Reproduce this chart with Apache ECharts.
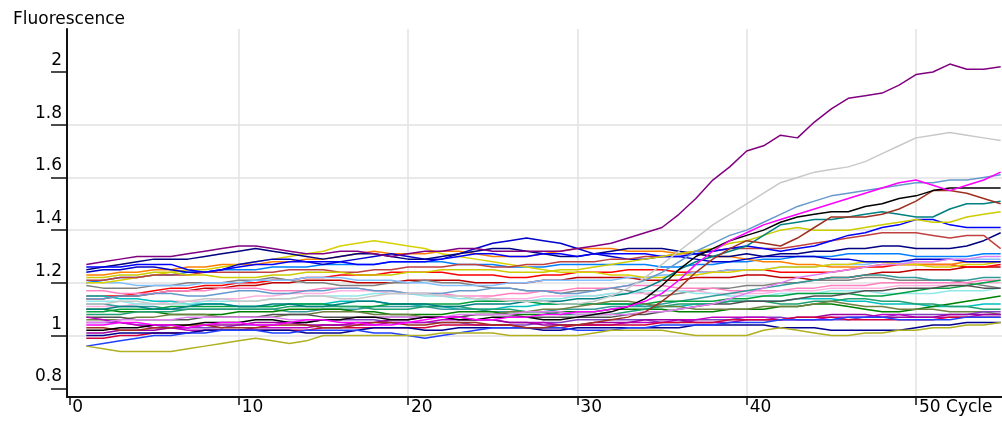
<!DOCTYPE html>
<html>
<head>
<meta charset="utf-8">
<script src="https://cdn.jsdelivr.net/npm/echarts@6/dist/echarts.min.js"></script>
<style>
  html, body { margin: 0; padding: 0; background: #fff; }
  #chart { width: 1002px; height: 423px; }
</style>
</head>
<body>
<div id="chart"></div>
<script>
var cycles = [1,2,3,4,5,6,7,8,9,10,11,12,13,14,15,16,17,18,19,20,21,22,23,24,25,26,27,28,29,30,
              31,32,33,34,35,36,37,38,39,40,41,42,43,44,45,46,47,48,49,50,51,52,53,54,55];
var xTicks = [0, 10, 20, 30, 40, 50];
var yTicks = [0.8, 1, 1.2, 1.4, 1.6, 1.8, 2];

// amplifying wells
var purple1 = [1.27,1.28,1.29,1.30,1.30,1.30,1.31,1.32,1.33,1.34, 1.34,1.33,1.32,1.31,1.31,1.32,1.32,1.31,1.30,1.31,
               1.32,1.32,1.33,1.33,1.32,1.32,1.32,1.32,1.32,1.33, 1.34,1.35,1.37,1.39,1.41,1.46,1.52,1.59,1.64,1.70,
               1.72,1.76,1.75,1.81,1.86,1.90,1.91,1.92,1.95,1.99, 2.00,2.03,2.01,2.01,2.02];
var gray1   = [1.12,1.12,1.13,1.13,1.12,1.12,1.13,1.14,1.14,1.13, 1.13,1.14,1.14,1.15,1.15,1.14,1.14,1.15,1.16,1.16,
               1.16,1.15,1.15,1.14,1.14,1.13,1.13,1.13,1.12,1.12, 1.13,1.15,1.18,1.22,1.27,1.32,1.37,1.42,1.46,1.50,
               1.54,1.58,1.60,1.62,1.63,1.64,1.66,1.69,1.72,1.75, 1.76,1.77,1.76,1.75,1.74];
var magenta1= [1.04,1.04,1.05,1.05,1.04,1.04,1.03,1.04,1.05,1.05, 1.04,1.04,1.05,1.06,1.06,1.05,1.05,1.04,1.04,1.05,
               1.06,1.07,1.07,1.06,1.06,1.07,1.07,1.08,1.08,1.09, 1.09,1.10,1.11,1.13,1.16,1.21,1.27,1.32,1.36,1.39,
               1.42,1.44,1.46,1.48,1.50,1.52,1.54,1.56,1.58,1.59, 1.57,1.55,1.57,1.59,1.62];
var steel1  = [1.14,1.14,1.15,1.15,1.16,1.16,1.15,1.15,1.16,1.17, 1.17,1.16,1.16,1.17,1.17,1.18,1.18,1.17,1.17,1.16,
               1.16,1.16,1.17,1.17,1.18,1.18,1.17,1.17,1.16,1.16, 1.17,1.18,1.19,1.21,1.24,1.28,1.32,1.35,1.38,1.40,
               1.43,1.46,1.49,1.51,1.53,1.54,1.55,1.56,1.57,1.58, 1.58,1.59,1.59,1.60,1.61];
var black1  = [1.02,1.02,1.03,1.03,1.04,1.04,1.04,1.05,1.05,1.05, 1.06,1.06,1.05,1.05,1.06,1.06,1.07,1.07,1.06,1.06,
               1.07,1.07,1.06,1.06,1.07,1.07,1.07,1.06,1.06,1.07, 1.08,1.09,1.11,1.14,1.19,1.25,1.30,1.33,1.36,1.38,
               1.40,1.43,1.45,1.46,1.47,1.47,1.49,1.50,1.52,1.53, 1.55,1.56,1.56,1.56,1.56];
var brown1  = [1.03,1.03,1.02,1.02,1.03,1.03,1.04,1.04,1.03,1.03, 1.03,1.04,1.04,1.04,1.03,1.03,1.04,1.05,1.05,1.04,
               1.04,1.05,1.05,1.05,1.04,1.04,1.03,1.03,1.04,1.04, 1.05,1.06,1.07,1.09,1.13,1.18,1.24,1.29,1.33,1.36,
               1.35,1.34,1.37,1.41,1.45,1.45,1.45,1.46,1.48,1.51, 1.55,1.55,1.54,1.52,1.50];
var teal1   = [1.10,1.10,1.11,1.11,1.10,1.10,1.11,1.12,1.12,1.11, 1.11,1.12,1.12,1.11,1.11,1.12,1.13,1.13,1.12,1.12,
               1.12,1.11,1.11,1.12,1.12,1.12,1.13,1.13,1.13,1.14, 1.14,1.15,1.16,1.18,1.21,1.25,1.28,1.30,1.32,1.34,
               1.38,1.42,1.43,1.44,1.44,1.45,1.46,1.47,1.46,1.45, 1.45,1.48,1.50,1.50,1.51];
var yellow1 = [1.22,1.22,1.23,1.23,1.24,1.24,1.23,1.23,1.22,1.22, 1.22,1.23,1.23,1.24,1.24,1.24,1.23,1.23,1.23,1.24,
               1.24,1.25,1.25,1.25,1.25,1.24,1.24,1.24,1.25,1.25, 1.26,1.27,1.28,1.29,1.30,1.31,1.32,1.33,1.35,1.36,
               1.38,1.40,1.41,1.40,1.40,1.40,1.41,1.42,1.43,1.44, 1.43,1.43,1.45,1.46,1.47];
var blue1   = [1.26,1.26,1.26,1.27,1.27,1.27,1.25,1.24,1.25,1.26, 1.27,1.27,1.28,1.28,1.28,1.28,1.27,1.27,1.28,1.28,
               1.28,1.29,1.30,1.31,1.31,1.30,1.30,1.31,1.31,1.30, 1.31,1.31,1.31,1.31,1.30,1.30,1.31,1.32,1.33,1.34,
               1.33,1.32,1.33,1.34,1.36,1.38,1.39,1.41,1.42,1.44, 1.44,1.42,1.41,1.41,1.41];
var red2    = [1.21,1.21,1.22,1.22,1.23,1.23,1.23,1.24,1.24,1.24, 1.24,1.24,1.25,1.25,1.25,1.24,1.24,1.25,1.25,1.26,
               1.26,1.26,1.27,1.27,1.26,1.26,1.27,1.27,1.28,1.28, 1.28,1.29,1.29,1.30,1.30,1.31,1.32,1.32,1.33,1.33,
               1.33,1.33,1.34,1.35,1.36,1.37,1.38,1.39,1.39,1.39, 1.38,1.37,1.38,1.38,1.33];
var plum1   = [1.05,1.05,1.06,1.06,1.06,1.06,1.07,1.07,1.07,1.07, 1.07,1.07,1.06,1.06,1.06,1.06,1.07,1.07,1.07,1.07,
               1.07,1.07,1.08,1.08,1.08,1.08,1.09,1.09,1.09,1.08, 1.08,1.08,1.08,1.09,1.09,1.10,1.11,1.12,1.14,1.16,
               1.18,1.20,1.22,1.23,1.24,1.25,1.26,1.27,1.27,1.28, 1.28,1.29,1.29,1.30,1.30];

// flat wells, top band
var navy1   = [1.25,1.26,1.27,1.28,1.29,1.29,1.29,1.30,1.31,1.32, 1.33,1.32,1.31,1.30,1.29,1.30,1.31,1.31,1.30,1.29,
               1.29,1.30,1.31,1.32,1.33,1.33,1.32,1.31,1.30,1.30, 1.31,1.32,1.33,1.33,1.33,1.32,1.31,1.30,1.30,1.31,
               1.30,1.31,1.31,1.32,1.32,1.33,1.33,1.34,1.34,1.33, 1.33,1.33,1.34,1.36,1.39];
var blue2   = [1.24,1.25,1.25,1.26,1.26,1.25,1.24,1.24,1.25,1.27, 1.28,1.29,1.29,1.28,1.27,1.28,1.29,1.30,1.31,1.30,
               1.29,1.29,1.31,1.33,1.35,1.36,1.37,1.36,1.35,1.33, 1.31,1.30,1.29,1.29,1.30,1.30,1.29,1.28,1.28,1.29,
               1.30,1.30,1.30,1.30,1.29,1.29,1.28,1.28,1.28,1.29, 1.29,1.29,1.28,1.28,1.28];
var yellow2 = [1.20,1.20,1.21,1.22,1.23,1.24,1.25,1.25,1.26,1.27, 1.28,1.29,1.30,1.31,1.32,1.34,1.35,1.36,1.35,1.34,
               1.33,1.31,1.30,1.29,1.28,1.27,1.26,1.25,1.24,1.24, 1.24,1.23,1.23,1.22,1.22,1.23,1.23,1.24,1.24,1.25,
               1.25,1.26,1.26,1.26,1.27,1.27,1.28,1.28,1.27,1.27, 1.26,1.26,1.27,1.27,1.28];
var orange1 = [1.23,1.23,1.24,1.24,1.25,1.25,1.26,1.26,1.27,1.27, 1.27,1.28,1.28,1.29,1.29,1.30,1.31,1.32,1.31,1.31,
               1.31,1.32,1.32,1.31,1.30,1.30,1.30,1.31,1.32,1.33, 1.33,1.33,1.32,1.32,1.32,1.31,1.31,1.30,1.30,1.29,
               1.28,1.28,1.27,1.27,1.26,1.26,1.26,1.27,1.27,1.27, 1.27,1.27,1.28,1.28,1.28];
var dodger1 = [1.20,1.21,1.22,1.22,1.23,1.23,1.24,1.24,1.25,1.25, 1.25,1.26,1.26,1.26,1.27,1.27,1.27,1.27,1.28,1.28,
               1.28,1.28,1.27,1.27,1.27,1.26,1.26,1.26,1.27,1.27, 1.27,1.27,1.27,1.27,1.26,1.26,1.27,1.27,1.28,1.28,
               1.29,1.29,1.30,1.30,1.30,1.31,1.31,1.31,1.31,1.30, 1.30,1.30,1.30,1.31,1.31];
var red1    = [1.15,1.15,1.15,1.16,1.17,1.18,1.18,1.19,1.19,1.20, 1.20,1.21,1.21,1.22,1.22,1.23,1.23,1.23,1.24,1.24,
               1.24,1.24,1.23,1.23,1.23,1.22,1.22,1.23,1.23,1.24, 1.24,1.24,1.25,1.25,1.25,1.24,1.24,1.24,1.25,1.25,
               1.25,1.24,1.24,1.24,1.24,1.25,1.26,1.26,1.27,1.27, 1.27,1.27,1.26,1.26,1.27];
var darkred1= [1.14,1.14,1.15,1.15,1.16,1.17,1.17,1.18,1.18,1.19, 1.19,1.20,1.20,1.21,1.21,1.21,1.20,1.20,1.20,1.21,
               1.21,1.21,1.21,1.20,1.20,1.20,1.20,1.21,1.21,1.22, 1.22,1.22,1.22,1.21,1.21,1.21,1.22,1.22,1.22,1.23,
               1.23,1.22,1.22,1.21,1.22,1.22,1.23,1.24,1.24,1.25, 1.25,1.25,1.26,1.26,1.26];
var gray2   = [1.19,1.18,1.18,1.18,1.19,1.19,1.20,1.20,1.20,1.21, 1.21,1.22,1.21,1.20,1.20,1.19,1.19,1.19,1.20,1.20,
               1.21,1.20,1.20,1.19,1.18,1.18,1.17,1.17,1.16,1.17, 1.17,1.18,1.17,1.16,1.15,1.16,1.17,1.18,1.18,1.19,
               1.19,1.20,1.20,1.21,1.21,1.21,1.22,1.22,1.21,1.21, 1.21,1.21,1.20,1.19,1.18];
var ltblue1 = [1.21,1.20,1.20,1.19,1.19,1.19,1.19,1.20,1.20,1.20, 1.21,1.21,1.21,1.22,1.22,1.22,1.21,1.21,1.21,1.20,
               1.20,1.19,1.19,1.19,1.19,1.20,1.20,1.21,1.21,1.21, 1.21,1.21,1.22,1.22,1.23,1.23,1.24,1.24,1.25,1.25,
               1.25,1.26,1.26,1.26,1.27,1.27,1.27,1.28,1.28,1.28, 1.28,1.29,1.29,1.29,1.29];

// flat wells, middle band
var pink1   = [1.17,1.17,1.16,1.16,1.16,1.17,1.17,1.17,1.18,1.18, 1.18,1.17,1.17,1.17,1.18,1.18,1.18,1.17,1.17,1.16,
               1.16,1.16,1.15,1.15,1.15,1.16,1.16,1.17,1.17,1.18, 1.18,1.18,1.19,1.19,1.19,1.18,1.18,1.18,1.17,1.17,
               1.17,1.17,1.18,1.18,1.19,1.19,1.19,1.20,1.20,1.20, 1.20,1.20,1.20,1.21,1.21];
var ltpink1 = [1.11,1.11,1.11,1.12,1.12,1.13,1.13,1.13,1.14,1.14, 1.15,1.15,1.16,1.16,1.16,1.17,1.17,1.17,1.16,1.16,
               1.16,1.15,1.15,1.15,1.14,1.14,1.14,1.15,1.15,1.15, 1.15,1.16,1.16,1.16,1.17,1.17,1.17,1.16,1.16,1.16,
               1.16,1.17,1.17,1.17,1.18,1.18,1.18,1.18,1.19,1.19, 1.19,1.19,1.19,1.20,1.20];
var cyan1   = [1.15,1.15,1.14,1.14,1.13,1.13,1.12,1.12,1.12,1.11, 1.11,1.11,1.12,1.12,1.12,1.13,1.13,1.13,1.12,1.12,
               1.11,1.11,1.10,1.10,1.10,1.11,1.11,1.12,1.12,1.12, 1.12,1.12,1.12,1.11,1.11,1.11,1.12,1.12,1.13,1.13,
               1.13,1.13,1.14,1.14,1.14,1.13,1.13,1.12,1.12,1.12, 1.11,1.11,1.11,1.12,1.12];
var ltcyan1 = [1.13,1.13,1.13,1.12,1.12,1.12,1.12,1.13,1.13,1.13, 1.13,1.14,1.14,1.15,1.15,1.15,1.15,1.16,1.16,1.16,
               1.15,1.15,1.14,1.14,1.13,1.13,1.13,1.14,1.14,1.15, 1.15,1.16,1.16,1.17,1.17,1.17,1.16,1.16,1.15,1.15,
               1.15,1.16,1.16,1.16,1.17,1.17,1.17,1.16,1.16,1.16, 1.16,1.17,1.17,1.17,1.18];
var teal2   = [1.12,1.12,1.11,1.11,1.11,1.10,1.10,1.10,1.10,1.10, 1.10,1.10,1.09,1.09,1.10,1.10,1.10,1.11,1.11,1.11,
               1.11,1.10,1.10,1.10,1.09,1.09,1.09,1.09,1.10,1.10, 1.10,1.11,1.11,1.11,1.12,1.13,1.14,1.15,1.16,1.17,
               1.18,1.19,1.20,1.21,1.22,1.22,1.23,1.23,1.22,1.22, 1.21,1.21,1.21,1.22,1.22];
var green1  = [1.10,1.10,1.09,1.09,1.09,1.08,1.08,1.08,1.08,1.09, 1.09,1.09,1.10,1.10,1.10,1.10,1.09,1.09,1.08,1.08,
               1.08,1.08,1.09,1.09,1.09,1.08,1.08,1.08,1.09,1.09, 1.09,1.10,1.10,1.10,1.10,1.09,1.09,1.09,1.10,1.10,
               1.10,1.11,1.11,1.12,1.12,1.11,1.10,1.09,1.09,1.10, 1.11,1.12,1.13,1.14,1.15];
var green2  = [1.09,1.09,1.10,1.10,1.10,1.11,1.11,1.11,1.11,1.11, 1.11,1.11,1.12,1.12,1.12,1.11,1.11,1.11,1.12,1.12,
               1.12,1.12,1.12,1.13,1.13,1.13,1.13,1.12,1.12,1.12, 1.12,1.12,1.12,1.12,1.13,1.13,1.13,1.13,1.14,1.14,
               1.15,1.15,1.16,1.16,1.16,1.16,1.15,1.15,1.16,1.17, 1.18,1.18,1.19,1.20,1.21];
var seagrn1 = [1.08,1.08,1.08,1.09,1.09,1.09,1.10,1.10,1.10,1.10, 1.10,1.10,1.11,1.11,1.11,1.11,1.11,1.10,1.10,1.10,
               1.11,1.11,1.11,1.10,1.10,1.10,1.09,1.09,1.08,1.08, 1.08,1.08,1.09,1.10,1.11,1.12,1.12,1.12,1.13,1.13,
               1.13,1.12,1.12,1.13,1.13,1.14,1.14,1.13,1.13,1.12, 1.12,1.11,1.11,1.10,1.10];
var olive1  = [1.06,1.06,1.06,1.07,1.07,1.08,1.08,1.08,1.07,1.07, 1.07,1.07,1.08,1.08,1.09,1.09,1.09,1.08,1.08,1.08,
               1.07,1.07,1.07,1.08,1.08,1.09,1.09,1.10,1.10,1.11, 1.12,1.13,1.13,1.12,1.11,1.11,1.10,1.10,1.10,1.10,
               1.11,1.11,1.11,1.12,1.13,1.12,1.11,1.11,1.10,1.10, 1.10,1.09,1.09,1.09,1.08];
var dkgray1 = [1.07,1.07,1.07,1.06,1.06,1.06,1.06,1.07,1.07,1.07, 1.07,1.08,1.08,1.08,1.07,1.07,1.07,1.07,1.07,1.07,
               1.07,1.07,1.07,1.08,1.08,1.08,1.07,1.07,1.07,1.07, 1.07,1.07,1.08,1.08,1.09,1.10,1.11,1.12,1.12,1.13,
               1.13,1.13,1.14,1.15,1.15,1.16,1.17,1.17,1.18,1.18, 1.18,1.19,1.19,1.18,1.18];

// flat wells, bottom band
var violet1 = [1.05,1.05,1.05,1.04,1.04,1.03,1.03,1.03,1.03,1.04, 1.04,1.04,1.05,1.05,1.06,1.06,1.06,1.06,1.05,1.05,
               1.05,1.05,1.05,1.04,1.04,1.04,1.04,1.05,1.05,1.06, 1.06,1.06,1.06,1.06,1.05,1.05,1.06,1.06,1.06,1.07,
               1.07,1.07,1.06,1.06,1.06,1.06,1.07,1.07,1.08,1.08, 1.08,1.08,1.08,1.09,1.09];
var magenta2= [1.07,1.06,1.05,1.04,1.03,1.03,1.02,1.02,1.02,1.02, 1.03,1.03,1.03,1.03,1.04,1.04,1.04,1.04,1.05,1.05,
               1.05,1.06,1.06,1.06,1.06,1.05,1.05,1.05,1.04,1.04, 1.04,1.04,1.05,1.05,1.05,1.06,1.06,1.07,1.07,1.07,
               1.07,1.06,1.06,1.06,1.07,1.07,1.07,1.08,1.08,1.07, 1.07,1.07,1.07,1.08,1.08];
var dkmag1  = [1.01,1.01,1.02,1.02,1.02,1.03,1.03,1.04,1.04,1.04, 1.05,1.05,1.05,1.04,1.04,1.04,1.05,1.05,1.06,1.06,
               1.07,1.07,1.07,1.06,1.06,1.05,1.05,1.04,1.04,1.04, 1.05,1.05,1.05,1.06,1.06,1.06,1.05,1.05,1.05,1.06,
               1.06,1.06,1.07,1.07,1.08,1.08,1.08,1.07,1.07,1.07, 1.07,1.08,1.08,1.08,1.08];
var crimson1= [0.99,0.99,1.00,1.00,1.01,1.01,1.01,1.02,1.02,1.02, 1.02,1.02,1.02,1.02,1.03,1.03,1.03,1.03,1.03,1.03,
               1.03,1.04,1.04,1.04,1.04,1.04,1.03,1.03,1.03,1.04, 1.04,1.04,1.04,1.04,1.05,1.05,1.05,1.05,1.06,1.06,
               1.06,1.06,1.07,1.07,1.07,1.06,1.06,1.06,1.06,1.06, 1.06,1.07,1.07,1.07,1.07];
var navy2   = [1.00,1.00,1.01,1.01,1.01,1.01,1.01,1.02,1.02,1.02, 1.02,1.02,1.02,1.01,1.01,1.01,1.02,1.03,1.03,1.03,
               1.02,1.02,1.03,1.03,1.03,1.03,1.03,1.02,1.02,1.03, 1.03,1.03,1.03,1.03,1.03,1.03,1.04,1.04,1.04,1.04,
               1.04,1.03,1.03,1.03,1.02,1.02,1.02,1.02,1.02,1.03, 1.04,1.04,1.05,1.05,1.05];
var blue3   = [0.96,0.97,0.98,0.99,1.00,1.00,1.01,1.01,1.02,1.02, 1.02,1.01,1.01,1.02,1.02,1.02,1.02,1.01,1.01,1.00,
               0.99,1.00,1.01,1.02,1.03,1.03,1.03,1.03,1.03,1.02, 1.02,1.02,1.03,1.03,1.04,1.04,1.04,1.04,1.05,1.05,
               1.05,1.06,1.06,1.06,1.06,1.07,1.07,1.07,1.06,1.06, 1.06,1.06,1.07,1.07,1.07];
var khaki1  = [0.96,0.95,0.94,0.94,0.94,0.94,0.95,0.96,0.97,0.98, 0.99,0.98,0.97,0.98,1.00,1.00,1.00,1.00,1.00,1.00,
               1.00,1.01,1.01,1.01,1.01,1.00,1.00,1.00,1.00,1.00, 1.01,1.02,1.02,1.02,1.02,1.01,1.00,1.00,1.00,1.00,
               1.02,1.03,1.02,1.01,1.00,1.00,1.01,1.01,1.02,1.02, 1.03,1.03,1.04,1.04,1.05];

var wells = [
  ['darkred1', darkred1, '#c00000'], ['red1', red1, '#ff0000'], ['gray2', gray2, '#808080'],
  ['ltblue1', ltblue1, '#80c0ff'], ['dodger1', dodger1, '#0080ff'], ['orange1', orange1, '#ff8000'],
  ['yellow2', yellow2, '#d8d000'], ['blue2', blue2, '#0000cc'], ['navy1', navy1, '#000080'],
  ['pink1', pink1, '#ff80c0'], ['ltpink1', ltpink1, '#ffb0e0'], ['cyan1', cyan1, '#00c0c0'],
  ['ltcyan1', ltcyan1, '#90e8e8'], ['teal2', teal2, '#339999'], ['green1', green1, '#008000'],
  ['green2', green2, '#00a040'], ['seagrn1', seagrn1, '#20a070'], ['olive1', olive1, '#708040'],
  ['dkgray1', dkgray1, '#505050'], ['violet1', violet1, '#8040c0'], ['magenta2', magenta2, '#c000c0'],
  ['dkmag1', dkmag1, '#a000a0'], ['crimson1', crimson1, '#d00040'], ['navy2', navy2, '#000090'],
  ['blue3', blue3, '#2040ff'], ['khaki1', khaki1, '#b0b020'],
  ['plum1', plum1, '#e080f0'], ['red2', red2, '#c04040'], ['blue1', blue1, '#0000ff'],
  ['yellow1', yellow1, '#cccc00'], ['teal1', teal1, '#008080'], ['brown1', brown1, '#a03020'],
  ['steel1', steel1, '#6699cc'], ['black1', black1, '#000000'], ['magenta1', magenta1, '#ff00ff'],
  ['gray1', gray1, '#c8c8c8'], ['purple1', purple1, '#800080']
];

var font = 'DejaVu Sans';
var myChart = echarts.init(document.getElementById('chart'));
var option = {
    animation: false,
    backgroundColor: '#fff',
    title: {
        text: 'Fluorescence',
        left: 8,
        top: 6,
        textStyle: { fontFamily: font, fontSize: 17, fontWeight: 'normal', color: '#000' }
    },
    grid: { left: 67, right: 0, top: 29, bottom: 26 },
    xAxis: {
        type: 'value',
        min: -0.14,
        max: 55.08,
        axisLine: { show: true, onZero: false, lineStyle: { color: '#111', width: 2 } },
        axisTick: { show: true, length: 8, customValues: xTicks, lineStyle: { color: '#111', width: 1.5 } },
        axisLabel: {
            customValues: xTicks,
            align: 'left',
            verticalAlign: 'top',
            margin: 2,
            padding: [0, 0, 0, 3],
            fontFamily: font,
            fontSize: 17,
            color: '#000',
            formatter: function (v) { return v === 50 ? '50 Cycle' : String(v); }
        },
        splitLine: { show: true, showMinLine: false, lineStyle: { color: '#e2e2e2', width: 1.5 } }
    },
    yAxis: {
        type: 'value',
        min: 0.767,
        max: 2.163,
        axisLine: { show: true, onZero: false, lineStyle: { color: '#111', width: 2 } },
        axisTick: { show: true, length: 16, customValues: yTicks, lineStyle: { color: '#111', width: 1.5 } },
        axisLabel: {
            customValues: yTicks,
            align: 'right',
            verticalAlign: 'bottom',
            margin: 5,
            padding: [0, 0, 3, 0],
            fontFamily: font,
            fontSize: 17,
            color: '#000'
        },
        splitLine: { show: true, showMinLine: false, showMaxLine: false, lineStyle: { color: '#e2e2e2', width: 1.5 } }
    },
    series: wells.map(function (w) {
        return {
            name: w[0],
            type: 'line',
            showSymbol: false,
            data: cycles.map(function (c, i) { return [c, w[1][i]]; }),
            lineStyle: { color: w[2], width: 1.5 },
            itemStyle: { color: w[2] }
        };
    })
};
myChart.setOption(option);
</script>
</body>
</html>
